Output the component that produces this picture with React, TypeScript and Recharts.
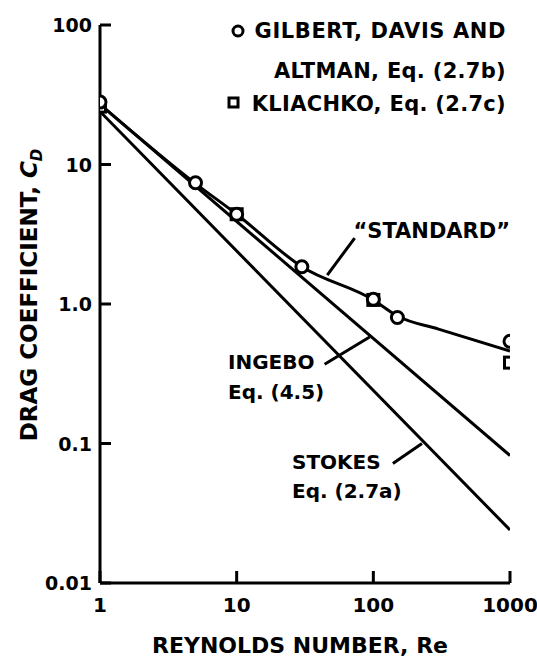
import React from 'react';
import {
  ComposedChart,
  Customized,
  Line,
  ReferenceLine,
  Scatter,
  XAxis,
  YAxis,
} from 'recharts';

const FONT = '"DejaVu Sans", "Liberation Sans", Arial, sans-serif';

// Reynolds number ticks / drag coefficient ticks
const reTicks = [1, 10, 100, 1000];
const cdTicks = [0.01, 0.1, 1, 10, 100];
const cdTickLabels: Record<number, string> = { 0.01: '0.01', 0.1: '0.1', 1: '1.0', 10: '10', 100: '100' };

// straight lines
const stokes = [
  { re: 1, cd: 24 },
  { re: 1000, cd: 0.024 },
];
const ingebo = [
  { re: 1, cd: 27 },
  { re: 1000, cd: 0.082 },
];

// "standard" curve
const standard = [
  { re: 1, cd: 27 },
  { re: 5, cd: 7.3 },
  { re: 10, cd: 4.4 },
  { re: 30, cd: 1.85 },
  { re: 100, cd: 1.07 },
  { re: 150, cd: 0.82 },
  { re: 300, cd: 0.66 },
  { re: 1000, cd: 0.46 },
];

// measured points
const gilbert = [
  { re: 1, cd: 28 },
  { re: 5, cd: 7.4 },
  { re: 10, cd: 4.4 },
  { re: 30, cd: 1.85 },
  { re: 100, cd: 1.08 },
  { re: 150, cd: 0.8 },
  { re: 1000, cd: 0.54 },
];
const kliachko = [
  { re: 1, cd: 26 },
  { re: 10, cd: 4.4 },
  { re: 100, cd: 1.07 },
  { re: 1000, cd: 0.38 },
];

// leader lines for the labels (data coords)
const standardLeader = [
  { x: 73, y: 2.97 },
  { x: 46, y: 1.61 },
];
const ingeboLeader = [
  { x: 44, y: 0.37 },
  { x: 94, y: 0.58 },
];
const stokesLeader = [
  { x: 139, y: 0.072 },
  { x: 227, y: 0.1 },
];

const textStyle = { fontFamily: FONT, fontWeight: 700, fill: '#000' };

const YTick = (props: any) => {
  const { x, y, payload } = props;
  const axisX = x + 10;
  return (
    <g>
      <line x1={axisX} y1={y} x2={axisX + 11} y2={y} stroke="#000" strokeWidth={3} />
      <text x={x + 2} y={y} dy={7} textAnchor="end" fontSize={19} {...textStyle}>
        {cdTickLabels[payload.value] ?? String(payload.value)}
      </text>
    </g>
  );
};

const XTick = (props: any) => {
  const { x, y, payload } = props;
  const axisY = y - 10;
  return (
    <g>
      <line x1={x} y1={axisY} x2={x} y2={axisY - 12} stroke="#000" strokeWidth={3} />
      <text x={x} y={y + 19} textAnchor="middle" fontSize={20} {...textStyle}>
        {payload.value}
      </text>
    </g>
  );
};

const CircleMark = (props: any) => {
  const { cx, cy } = props;
  return <circle cx={cx} cy={cy} r={6} fill="#fff" stroke="#000" strokeWidth={3} />;
};

const SquareMark = (props: any) => {
  const { cx, cy } = props;
  return <rect x={cx - 5.5} y={cy - 5.5} width={11} height={11} fill="#fff" stroke="#000" strokeWidth={3} />;
};

const Annotations = () => (
  <g>
    {/* legend */}
    <circle cx={238} cy={31} r={5} fill="#fff" stroke="#000" strokeWidth={3} />
    <text x={506} y={38} textAnchor="end" fontSize={21} letterSpacing={0.6} {...textStyle}>
      GILBERT, DAVIS AND
    </text>
    <text x={506} y={78} textAnchor="end" fontSize={21} letterSpacing={0.3} {...textStyle}>
      ALTMAN,  Eq. (2.7b)
    </text>
    <rect x={229} y={98} width={9} height={9} fill="#fff" stroke="#000" strokeWidth={3} />
    <text x={506} y={111} textAnchor="end" fontSize={21} letterSpacing={0.3} {...textStyle}>
      KLIACHKO,  Eq. (2.7c)
    </text>

    {/* curve labels */}
    <text x={510} y={238} textAnchor="end" fontSize={21} {...textStyle}>
      “STANDARD”
    </text>
    <text x={228} y={369} fontSize={20} {...textStyle}>
      INGEBO
    </text>
    <text x={228} y={399} fontSize={20} {...textStyle}>
      Eq.  (4.5)
    </text>
    <text x={292} y={469} fontSize={20} {...textStyle}>
      STOKES
    </text>
    <text x={292} y={498} fontSize={20} {...textStyle}>
      Eq.  (2.7a)
    </text>

    {/* axis titles */}
    <text x={300} y={653} textAnchor="middle" fontSize={22} {...textStyle}>
      REYNOLDS NUMBER, Re
    </text>
    <text
      x={0}
      y={0}
      transform="translate(37 295) rotate(-90)"
      textAnchor="middle"
      fontSize={23}
      {...textStyle}
    >
      DRAG COEFFICIENT,{' '}
      <tspan fontStyle="italic">C</tspan>
      <tspan fontStyle="italic" fontSize={15} dy={5}>
        D
      </tspan>
    </text>
  </g>
);

export default function App() {
  return (
    <div style={{ position: 'absolute', left: 0, top: 0, width: 537, height: 662, background: '#fff' }}>
      <ComposedChart width={537} height={662} margin={{ top: 25, right: 27, bottom: 39, left: 40 }}>
        <XAxis
          dataKey="re"
          type="number"
          scale="log"
          domain={[1, 1000]}
          ticks={reTicks}
          allowDataOverflow
          height={40}
          tickSize={0}
          tickMargin={10}
          tickLine={false}
          axisLine={{ stroke: '#000', strokeWidth: 3 }}
          tick={<XTick />}
        />
        <YAxis
          dataKey="cd"
          type="number"
          scale="log"
          domain={[0.01, 100]}
          ticks={cdTicks}
          allowDataOverflow
          width={60}
          tickSize={0}
          tickMargin={10}
          tickLine={false}
          axisLine={{ stroke: '#000', strokeWidth: 3 }}
          tick={<YTick />}
        />
        <Line data={stokes} dataKey="cd" type="linear" stroke="#000" strokeWidth={3} dot={false} isAnimationActive={false} />
        <Line data={ingebo} dataKey="cd" type="linear" stroke="#000" strokeWidth={3} dot={false} isAnimationActive={false} />
        <Line data={standard} dataKey="cd" type="monotone" stroke="#000" strokeWidth={3} dot={false} isAnimationActive={false} />
        <ReferenceLine segment={standardLeader} stroke="#000" strokeWidth={3} ifOverflow="visible" />
        <ReferenceLine segment={ingeboLeader} stroke="#000" strokeWidth={3} ifOverflow="visible" />
        <ReferenceLine segment={stokesLeader} stroke="#000" strokeWidth={3} ifOverflow="visible" />
        <Scatter data={kliachko} dataKey="cd" shape={<SquareMark />} isAnimationActive={false} />
        <Scatter data={gilbert} dataKey="cd" shape={<CircleMark />} isAnimationActive={false} />
        <Customized component={Annotations} />
      </ComposedChart>
    </div>
  );
}
